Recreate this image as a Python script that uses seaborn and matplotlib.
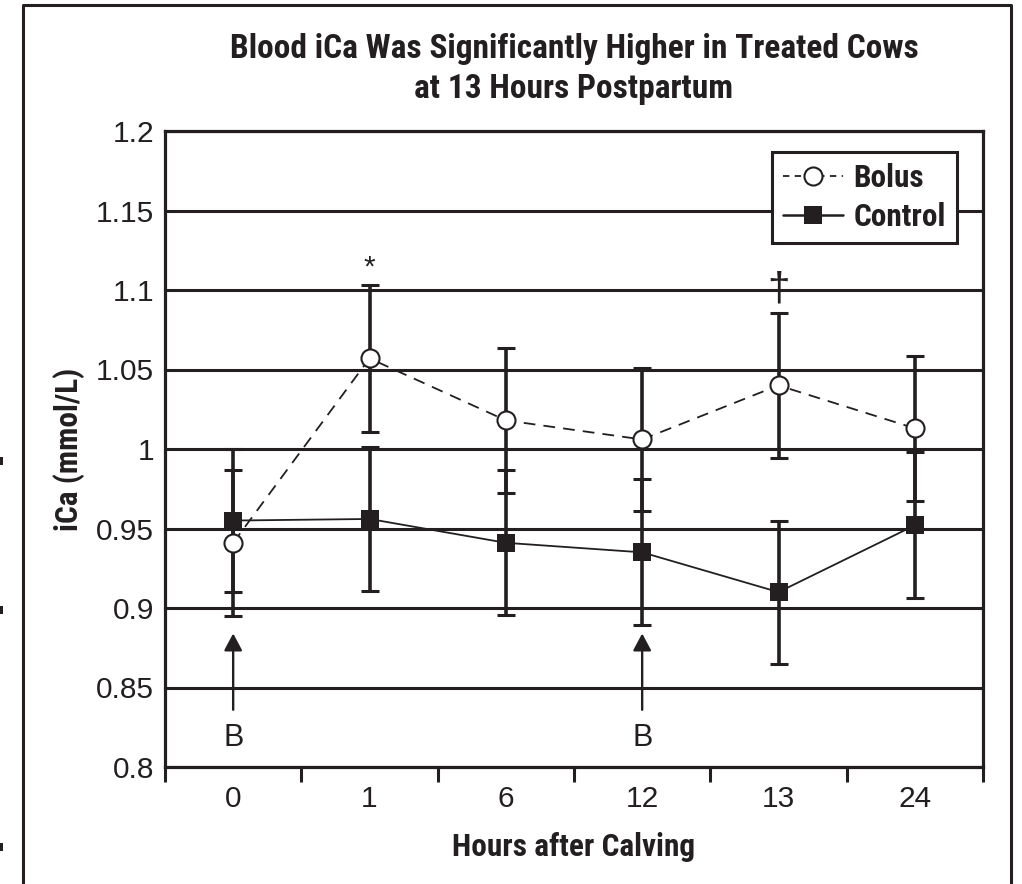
import numpy as np
import pandas as pd
import matplotlib
matplotlib.use("Agg")
import matplotlib.pyplot as plt
import seaborn as sns
from matplotlib import font_manager
from matplotlib.lines import Line2D
from matplotlib.patches import Rectangle
from matplotlib.ticker import FixedLocator

# ---- data -------------------------------------------------------------
hours = ["0", "1", "6", "12", "13", "24"]
bolus_mean = [0.941, 1.057, 1.018, 1.006, 1.040, 1.013]
bolus_se = [0.046, 0.046, 0.0455, 0.045, 0.0455, 0.0455]
control_mean = [0.955, 0.956, 0.941, 0.935, 0.910, 0.952]
control_se = [0.045, 0.0455, 0.0455, 0.046, 0.045, 0.046]
dose_hours = ["0", "12"]                 # bolus given at these times
significance = {"1": "*", "13": "\u2020"}  # marks above the Bolus series
yticks = [0.8, 0.85, 0.9, 0.95, 1.0, 1.05, 1.1, 1.15, 1.2]
ytick_labels = ["0.8", "0.85", "0.9", "0.95", "1", "1.05", "1.1", "1.15", "1.2"]

title = "Blood iCa Was Significantly Higher in Treated Cows\nat 13 Hours Postpartum"
xlabel = "Hours after Calving"
ylabel = "iCa (mmol/L)"

# ---- style --------------------------------------------------------------
INK = "#231f20"
sns.set_theme(style="white")
available = {f.name for f in font_manager.fontManager.ttflist}
narrow = next((n for n in ["Roboto Condensed", "Liberation Sans Narrow",
                           "Open Sans Condensed", "Arial Narrow"] if n in available),
              None)
if narrow:
    plt.rcParams["font.family"] = [narrow, "DejaVu Sans"]
else:
    plt.rcParams["font.family"] = ["DejaVu Sans"]
    plt.rcParams["font.stretch"] = "condensed"
plain = ["Liberation Sans", "DejaVu Sans"]   # lighter face for numbers
plt.rcParams["text.color"] = INK
plt.rcParams["axes.labelcolor"] = INK
plt.rcParams["xtick.color"] = INK
plt.rcParams["ytick.color"] = INK

FS = 22.5      # bold labels
FS_NUM = 21.5  # tick labels and annotations
W, H = 1022, 884
fig = plt.figure(figsize=(W / 100, H / 100), dpi=100)
fig.patch.set_facecolor("white")


def fx(px):
    return px / W


def fy(py):
    return 1 - py / H


ax = fig.add_axes([fx(165), fy(767), fx(983) - fx(165), fy(131) - fy(767)])

df = pd.DataFrame({
    "hours": hours * 2,
    "iCa": bolus_mean + control_mean,
    "se": bolus_se + control_se,
    "group": ["Bolus"] * len(hours) + ["Control"] * len(hours),
})
bolus = df[df.group == "Bolus"]
control = df[df.group == "Control"]

# lines and markers
sns.pointplot(data=bolus, x="hours", y="iCa", order=hours, errorbar=None,
              color=INK, markers="o", linestyles=(0, (6.5, 4.5)), ax=ax,
              markersize=13, markerfacecolor="white", markeredgecolor=INK,
              markeredgewidth=1.5, linewidth=1.3, zorder=4)
sns.pointplot(data=control, x="hours", y="iCa", order=hours, errorbar=None,
              color=INK, markers="s", linestyles="-", ax=ax,
              markersize=12.7, markerfacecolor=INK, markeredgecolor=INK,
              markeredgewidth=0, linewidth=1.3, zorder=4)

pos = {h: i for i, h in enumerate(hours)}

# standard-error bars
for sub in (bolus, control):
    ax.errorbar([pos[h] for h in sub.hours], sub.iCa, yerr=sub.se, fmt="none",
                ecolor=INK, elinewidth=2.6, capsize=6.5, capthick=2.2, zorder=3)

# significance marks
mark_size = {"*": FS_NUM, "\u2020": 29}
for h, mark in significance.items():
    top = bolus_mean[pos[h]] + bolus_se[pos[h]]
    ax.annotate(mark, xy=(pos[h], top), xytext=(0, 3),
                textcoords="offset points", ha="center", va="bottom",
                fontsize=mark_size[mark], family=plain, color=INK, zorder=5)

# bolus administration arrows
for h in dose_hours:
    ax.annotate("", xy=(pos[h], 0.884), xytext=(pos[h], 0.836),
                arrowprops=dict(arrowstyle="-|>,head_length=0.45,head_width=0.24",
                                mutation_scale=23, lw=1.7, color=INK,
                                shrinkA=0, shrinkB=0), zorder=5)
    ax.text(pos[h], 0.818, "B", ha="center", va="center", fontsize=FS_NUM + 0.5,
            family=plain, color=INK)

# axes, grid, ticks
ax.set_xlim(-0.5, len(hours) - 0.5)
ax.set_ylim(0.8, 1.2)
ax.set_yticks(yticks)
ax.set_yticklabels(ytick_labels, family=plain)
ax.set_xticks(range(len(hours)))
ax.set_xticklabels(hours, family=plain)
ax.xaxis.set_minor_locator(FixedLocator(np.arange(-0.5, len(hours), 1.0)))
ax.tick_params(axis="both", which="major", length=0, labelsize=FS_NUM)
ax.tick_params(axis="y", pad=8)
ax.tick_params(axis="x", pad=13)
ax.tick_params(axis="x", which="minor", bottom=True, direction="out",
               length=11, width=2.2, color=INK)
ax.grid(False)
for y in yticks:
    ax.axhline(y, color=INK, lw=2.2, zorder=1)
for s in ax.spines.values():
    s.set_visible(True)
    s.set_color(INK)
    s.set_linewidth(2.3)

ax.set_xlabel(xlabel, fontsize=FS, fontweight="bold", labelpad=14)
ax.set_ylabel(ylabel, fontsize=FS, fontweight="bold", labelpad=8)
ax.set_title(title, fontsize=24, fontweight="bold", pad=24, linespacing=1.3,
             color=INK)

# legend
handles = [
    Line2D([], [], color=INK, lw=1.3, linestyle=(0, (3.5, 3)), marker="o",
           markersize=13, markerfacecolor="white", markeredgecolor=INK,
           markeredgewidth=1.5),
    Line2D([], [], color=INK, lw=1.8, linestyle="-", marker="s",
           markersize=12.7, markerfacecolor=INK, markeredgewidth=0),
]
leg = ax.legend(handles, ["Bolus", "Control"], loc="upper right",
                bbox_to_anchor=(0.968, 0.967), borderaxespad=0, fancybox=False,
                framealpha=1, edgecolor=INK, handlelength=1.9, handletextpad=0.35,
                labelspacing=0.3, borderpad=0.35, numpoints=1,
                prop={"size": FS, "weight": "bold"})
leg.get_frame().set_linewidth(2.2)
leg.set_zorder(6)

# page frame around the figure
frame_kw = dict(transform=fig.transFigure, color=INK, lw=2.2)
fig.add_artist(Line2D([fx(23), fx(23), fx(1011), fx(1011)],
                      [0, fy(5), fy(5), 0], **frame_kw))
for y0 in (457, 606, 843):
    fig.add_artist(Rectangle((0, fy(y0 + 8)), fx(3), 8 / H,
                             transform=fig.transFigure, color=INK, lw=0))

fig.savefig("out.png", dpi=100, facecolor="white")
